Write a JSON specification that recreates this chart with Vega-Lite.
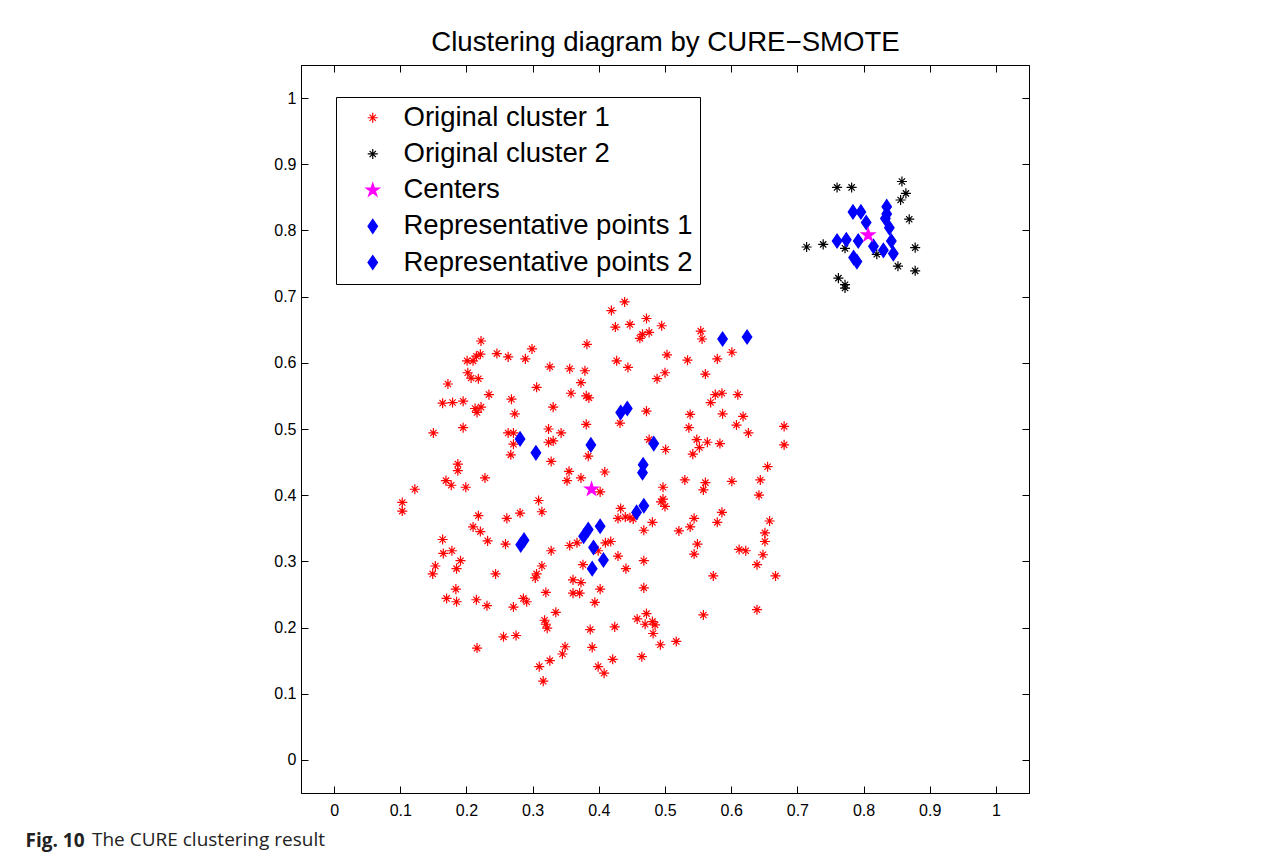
{
  "$schema": "https://vega.github.io/schema/vega-lite/v6.json",
  "autosize": {"type": "none"},
  "padding": {"left": 301, "top": 65, "right": 252, "bottom": 67},
  "width": 728,
  "height": 728,
  "background": "#ffffff",
  "title": {"text": "The CURE clustering result", "orient": "bottom", "anchor": "start", "frame": "group", "font": "Open Sans", "fontSize": 19, "fontWeight": "normal", "color": "#222222", "baseline": "alphabetic", "offset": 0, "dx": -209, "dy": -4},
  "data": {"values": [
    {"x":0.222,"y":0.633,"s":"Original cluster 1"},{"x":0.246,"y":0.614,"s":"Original cluster 1"},{"x":0.215,"y":0.610,"s":"Original cluster 1"},{"x":0.221,"y":0.613,"s":"Original cluster 1"},{"x":0.201,"y":0.603,"s":"Original cluster 1"},{"x":0.210,"y":0.603,"s":"Original cluster 1"},{"x":0.263,"y":0.609,"s":"Original cluster 1"},{"x":0.299,"y":0.621,"s":"Original cluster 1"},{"x":0.289,"y":0.606,"s":"Original cluster 1"},{"x":0.382,"y":0.628,"s":"Original cluster 1"},
    {"x":0.326,"y":0.594,"s":"Original cluster 1"},{"x":0.356,"y":0.591,"s":"Original cluster 1"},{"x":0.379,"y":0.588,"s":"Original cluster 1"},{"x":0.202,"y":0.585,"s":"Original cluster 1"},{"x":0.207,"y":0.577,"s":"Original cluster 1"},{"x":0.218,"y":0.576,"s":"Original cluster 1"},{"x":0.172,"y":0.568,"s":"Original cluster 1"},{"x":0.373,"y":0.570,"s":"Original cluster 1"},{"x":0.306,"y":0.563,"s":"Original cluster 1"},{"x":0.358,"y":0.554,"s":"Original cluster 1"},
    {"x":0.234,"y":0.552,"s":"Original cluster 1"},{"x":0.381,"y":0.550,"s":"Original cluster 1"},{"x":0.385,"y":0.547,"s":"Original cluster 1"},{"x":0.164,"y":0.539,"s":"Original cluster 1"},{"x":0.179,"y":0.540,"s":"Original cluster 1"},{"x":0.195,"y":0.542,"s":"Original cluster 1"},{"x":0.268,"y":0.545,"s":"Original cluster 1"},{"x":0.213,"y":0.531,"s":"Original cluster 1"},{"x":0.222,"y":0.533,"s":"Original cluster 1"},{"x":0.216,"y":0.525,"s":"Original cluster 1"},
    {"x":0.331,"y":0.533,"s":"Original cluster 1"},{"x":0.273,"y":0.523,"s":"Original cluster 1"},{"x":0.381,"y":0.507,"s":"Original cluster 1"},{"x":0.150,"y":0.494,"s":"Original cluster 1"},{"x":0.195,"y":0.502,"s":"Original cluster 1"},{"x":0.324,"y":0.500,"s":"Original cluster 1"},{"x":0.263,"y":0.494,"s":"Original cluster 1"},{"x":0.271,"y":0.494,"s":"Original cluster 1"},{"x":0.343,"y":0.494,"s":"Original cluster 1"},{"x":0.324,"y":0.480,"s":"Original cluster 1"},
    {"x":0.331,"y":0.482,"s":"Original cluster 1"},{"x":0.271,"y":0.477,"s":"Original cluster 1"},{"x":0.267,"y":0.461,"s":"Original cluster 1"},{"x":0.384,"y":0.459,"s":"Original cluster 1"},{"x":0.328,"y":0.451,"s":"Original cluster 1"},{"x":0.187,"y":0.447,"s":"Original cluster 1"},{"x":0.187,"y":0.437,"s":"Original cluster 1"},{"x":0.355,"y":0.436,"s":"Original cluster 1"},{"x":0.409,"y":0.435,"s":"Original cluster 1"},{"x":0.169,"y":0.422,"s":"Original cluster 1"},
    {"x":0.177,"y":0.415,"s":"Original cluster 1"},{"x":0.199,"y":0.412,"s":"Original cluster 1"},{"x":0.228,"y":0.426,"s":"Original cluster 1"},{"x":0.352,"y":0.422,"s":"Original cluster 1"},{"x":0.373,"y":0.426,"s":"Original cluster 1"},{"x":0.122,"y":0.409,"s":"Original cluster 1"},
    {"x":0.439,"y":0.692,"s":"Original cluster 1"},{"x":0.419,"y":0.679,"s":"Original cluster 1"},{"x":0.425,"y":0.654,"s":"Original cluster 1"},{"x":0.447,"y":0.658,"s":"Original cluster 1"},{"x":0.472,"y":0.667,"s":"Original cluster 1"},{"x":0.495,"y":0.656,"s":"Original cluster 1"},{"x":0.462,"y":0.637,"s":"Original cluster 1"},{"x":0.466,"y":0.643,"s":"Original cluster 1"},{"x":0.476,"y":0.646,"s":"Original cluster 1"},{"x":0.554,"y":0.648,"s":"Original cluster 1"},
    {"x":0.556,"y":0.636,"s":"Original cluster 1"},{"x":0.601,"y":0.616,"s":"Original cluster 1"},{"x":0.579,"y":0.606,"s":"Original cluster 1"},{"x":0.503,"y":0.612,"s":"Original cluster 1"},{"x":0.534,"y":0.604,"s":"Original cluster 1"},{"x":0.427,"y":0.603,"s":"Original cluster 1"},{"x":0.444,"y":0.593,"s":"Original cluster 1"},{"x":0.500,"y":0.585,"s":"Original cluster 1"},{"x":0.488,"y":0.576,"s":"Original cluster 1"},{"x":0.561,"y":0.583,"s":"Original cluster 1"},
    {"x":0.576,"y":0.552,"s":"Original cluster 1"},{"x":0.586,"y":0.554,"s":"Original cluster 1"},{"x":0.569,"y":0.540,"s":"Original cluster 1"},{"x":0.610,"y":0.552,"s":"Original cluster 1"},{"x":0.432,"y":0.509,"s":"Original cluster 1"},{"x":0.472,"y":0.527,"s":"Original cluster 1"},{"x":0.538,"y":0.522,"s":"Original cluster 1"},{"x":0.587,"y":0.523,"s":"Original cluster 1"},{"x":0.618,"y":0.519,"s":"Original cluster 1"},{"x":0.536,"y":0.502,"s":"Original cluster 1"},
    {"x":0.608,"y":0.506,"s":"Original cluster 1"},{"x":0.626,"y":0.494,"s":"Original cluster 1"},{"x":0.680,"y":0.504,"s":"Original cluster 1"},{"x":0.680,"y":0.476,"s":"Original cluster 1"},{"x":0.548,"y":0.484,"s":"Original cluster 1"},{"x":0.564,"y":0.480,"s":"Original cluster 1"},{"x":0.552,"y":0.472,"s":"Original cluster 1"},{"x":0.583,"y":0.478,"s":"Original cluster 1"},{"x":0.542,"y":0.462,"s":"Original cluster 1"},{"x":0.476,"y":0.484,"s":"Original cluster 1"},
    {"x":0.501,"y":0.469,"s":"Original cluster 1"},{"x":0.655,"y":0.443,"s":"Original cluster 1"},{"x":0.530,"y":0.423,"s":"Original cluster 1"},{"x":0.561,"y":0.419,"s":"Original cluster 1"},{"x":0.601,"y":0.421,"s":"Original cluster 1"},{"x":0.644,"y":0.423,"s":"Original cluster 1"},{"x":0.497,"y":0.412,"s":"Original cluster 1"},
    {"x":0.103,"y":0.389,"s":"Original cluster 1"},{"x":0.103,"y":0.376,"s":"Original cluster 1"},{"x":0.218,"y":0.369,"s":"Original cluster 1"},{"x":0.261,"y":0.365,"s":"Original cluster 1"},{"x":0.281,"y":0.373,"s":"Original cluster 1"},{"x":0.309,"y":0.392,"s":"Original cluster 1"},{"x":0.314,"y":0.375,"s":"Original cluster 1"},{"x":0.210,"y":0.352,"s":"Original cluster 1"},{"x":0.221,"y":0.345,"s":"Original cluster 1"},{"x":0.232,"y":0.331,"s":"Original cluster 1"},
    {"x":0.164,"y":0.333,"s":"Original cluster 1"},{"x":0.165,"y":0.312,"s":"Original cluster 1"},{"x":0.178,"y":0.316,"s":"Original cluster 1"},{"x":0.191,"y":0.301,"s":"Original cluster 1"},{"x":0.153,"y":0.293,"s":"Original cluster 1"},{"x":0.149,"y":0.281,"s":"Original cluster 1"},{"x":0.185,"y":0.289,"s":"Original cluster 1"},{"x":0.259,"y":0.326,"s":"Original cluster 1"},{"x":0.328,"y":0.316,"s":"Original cluster 1"},{"x":0.356,"y":0.324,"s":"Original cluster 1"},
    {"x":0.367,"y":0.328,"s":"Original cluster 1"},{"x":0.399,"y":0.316,"s":"Original cluster 1"},{"x":0.410,"y":0.328,"s":"Original cluster 1"},{"x":0.314,"y":0.293,"s":"Original cluster 1"},{"x":0.244,"y":0.281,"s":"Original cluster 1"},{"x":0.306,"y":0.281,"s":"Original cluster 1"},{"x":0.304,"y":0.275,"s":"Original cluster 1"},{"x":0.376,"y":0.295,"s":"Original cluster 1"},{"x":0.361,"y":0.272,"s":"Original cluster 1"},{"x":0.373,"y":0.268,"s":"Original cluster 1"},
    {"x":0.361,"y":0.252,"s":"Original cluster 1"},{"x":0.371,"y":0.252,"s":"Original cluster 1"},{"x":0.402,"y":0.258,"s":"Original cluster 1"},{"x":0.394,"y":0.238,"s":"Original cluster 1"},{"x":0.320,"y":0.253,"s":"Original cluster 1"},{"x":0.184,"y":0.258,"s":"Original cluster 1"},{"x":0.170,"y":0.244,"s":"Original cluster 1"},{"x":0.185,"y":0.239,"s":"Original cluster 1"},{"x":0.215,"y":0.242,"s":"Original cluster 1"},{"x":0.231,"y":0.233,"s":"Original cluster 1"},
    {"x":0.286,"y":0.244,"s":"Original cluster 1"},{"x":0.291,"y":0.239,"s":"Original cluster 1"},{"x":0.271,"y":0.231,"s":"Original cluster 1"},{"x":0.335,"y":0.223,"s":"Original cluster 1"},{"x":0.318,"y":0.211,"s":"Original cluster 1"},{"x":0.320,"y":0.205,"s":"Original cluster 1"},{"x":0.322,"y":0.199,"s":"Original cluster 1"},{"x":0.387,"y":0.197,"s":"Original cluster 1"},{"x":0.256,"y":0.186,"s":"Original cluster 1"},{"x":0.275,"y":0.188,"s":"Original cluster 1"},
    {"x":0.216,"y":0.169,"s":"Original cluster 1"},{"x":0.349,"y":0.171,"s":"Original cluster 1"},{"x":0.345,"y":0.160,"s":"Original cluster 1"},{"x":0.390,"y":0.170,"s":"Original cluster 1"},{"x":0.326,"y":0.150,"s":"Original cluster 1"},{"x":0.310,"y":0.141,"s":"Original cluster 1"},{"x":0.316,"y":0.119,"s":"Original cluster 1"},{"x":0.399,"y":0.141,"s":"Original cluster 1"},{"x":0.408,"y":0.131,"s":"Original cluster 1"},{"x":0.402,"y":0.405,"s":"Original cluster 1"},
    {"x":0.497,"y":0.394,"s":"Original cluster 1"},{"x":0.494,"y":0.390,"s":"Original cluster 1"},{"x":0.500,"y":0.383,"s":"Original cluster 1"},{"x":0.558,"y":0.408,"s":"Original cluster 1"},{"x":0.642,"y":0.400,"s":"Original cluster 1"},{"x":0.433,"y":0.380,"s":"Original cluster 1"},{"x":0.429,"y":0.365,"s":"Original cluster 1"},{"x":0.440,"y":0.367,"s":"Original cluster 1"},{"x":0.447,"y":0.366,"s":"Original cluster 1"},{"x":0.452,"y":0.364,"s":"Original cluster 1"},
    {"x":0.481,"y":0.359,"s":"Original cluster 1"},{"x":0.468,"y":0.347,"s":"Original cluster 1"},{"x":0.521,"y":0.346,"s":"Original cluster 1"},{"x":0.544,"y":0.365,"s":"Original cluster 1"},{"x":0.538,"y":0.352,"s":"Original cluster 1"},{"x":0.586,"y":0.374,"s":"Original cluster 1"},{"x":0.579,"y":0.359,"s":"Original cluster 1"},{"x":0.658,"y":0.361,"s":"Original cluster 1"},{"x":0.651,"y":0.343,"s":"Original cluster 1"},{"x":0.651,"y":0.330,"s":"Original cluster 1"},
    {"x":0.549,"y":0.326,"s":"Original cluster 1"},{"x":0.544,"y":0.311,"s":"Original cluster 1"},{"x":0.612,"y":0.318,"s":"Original cluster 1"},{"x":0.622,"y":0.316,"s":"Original cluster 1"},{"x":0.648,"y":0.310,"s":"Original cluster 1"},{"x":0.639,"y":0.295,"s":"Original cluster 1"},{"x":0.667,"y":0.278,"s":"Original cluster 1"},{"x":0.573,"y":0.278,"s":"Original cluster 1"},{"x":0.418,"y":0.330,"s":"Original cluster 1"},{"x":0.429,"y":0.308,"s":"Original cluster 1"},
    {"x":0.441,"y":0.289,"s":"Original cluster 1"},{"x":0.468,"y":0.301,"s":"Original cluster 1"},{"x":0.468,"y":0.260,"s":"Original cluster 1"},{"x":0.458,"y":0.213,"s":"Original cluster 1"},{"x":0.472,"y":0.221,"s":"Original cluster 1"},{"x":0.470,"y":0.205,"s":"Original cluster 1"},{"x":0.481,"y":0.209,"s":"Original cluster 1"},{"x":0.485,"y":0.204,"s":"Original cluster 1"},{"x":0.482,"y":0.191,"s":"Original cluster 1"},{"x":0.558,"y":0.219,"s":"Original cluster 1"},
    {"x":0.639,"y":0.227,"s":"Original cluster 1"},{"x":0.424,"y":0.201,"s":"Original cluster 1"},{"x":0.493,"y":0.174,"s":"Original cluster 1"},{"x":0.517,"y":0.179,"s":"Original cluster 1"},{"x":0.421,"y":0.152,"s":"Original cluster 1"},{"x":0.465,"y":0.156,"s":"Original cluster 1"},
    {"x":0.760,"y":0.865,"s":"Original cluster 2"},{"x":0.782,"y":0.865,"s":"Original cluster 2"},{"x":0.858,"y":0.874,"s":"Original cluster 2"},{"x":0.864,"y":0.856,"s":"Original cluster 2"},{"x":0.856,"y":0.846,"s":"Original cluster 2"},{"x":0.869,"y":0.817,"s":"Original cluster 2"},{"x":0.714,"y":0.775,"s":"Original cluster 2"},{"x":0.739,"y":0.779,"s":"Original cluster 2"},{"x":0.772,"y":0.773,"s":"Original cluster 2"},{"x":0.820,"y":0.764,"s":"Original cluster 2"},
    {"x":0.878,"y":0.774,"s":"Original cluster 2"},{"x":0.852,"y":0.746,"s":"Original cluster 2"},{"x":0.878,"y":0.739,"s":"Original cluster 2"},{"x":0.762,"y":0.728,"s":"Original cluster 2"},{"x":0.772,"y":0.718,"s":"Original cluster 2"},{"x":0.772,"y":0.713,"s":"Original cluster 2"},
    {"x":0.281,"y":0.485,"s":"Representative points 1"},{"x":0.305,"y":0.464,"s":"Representative points 1"},{"x":0.388,"y":0.476,"s":"Representative points 1"},{"x":0.587,"y":0.636,"s":"Representative points 1"},{"x":0.624,"y":0.639,"s":"Representative points 1"},{"x":0.433,"y":0.525,"s":"Representative points 1"},{"x":0.443,"y":0.531,"s":"Representative points 1"},{"x":0.483,"y":0.478,"s":"Representative points 1"},{"x":0.467,"y":0.446,"s":"Representative points 1"},{"x":0.466,"y":0.434,"s":"Representative points 1"},
    {"x":0.282,"y":0.325,"s":"Representative points 1"},{"x":0.287,"y":0.332,"s":"Representative points 1"},{"x":0.384,"y":0.348,"s":"Representative points 1"},{"x":0.377,"y":0.338,"s":"Representative points 1"},{"x":0.402,"y":0.353,"s":"Representative points 1"},{"x":0.392,"y":0.321,"s":"Representative points 1"},{"x":0.407,"y":0.302,"s":"Representative points 1"},{"x":0.390,"y":0.289,"s":"Representative points 1"},{"x":0.457,"y":0.374,"s":"Representative points 1"},{"x":0.468,"y":0.384,"s":"Representative points 1"},
    {"x":0.784,"y":0.828,"s":"Representative points 2"},{"x":0.796,"y":0.828,"s":"Representative points 2"},{"x":0.835,"y":0.836,"s":"Representative points 2"},{"x":0.835,"y":0.825,"s":"Representative points 2"},{"x":0.833,"y":0.818,"s":"Representative points 2"},{"x":0.839,"y":0.804,"s":"Representative points 2"},{"x":0.804,"y":0.812,"s":"Representative points 2"},{"x":0.760,"y":0.784,"s":"Representative points 2"},{"x":0.774,"y":0.786,"s":"Representative points 2"},{"x":0.792,"y":0.784,"s":"Representative points 2"},
    {"x":0.815,"y":0.776,"s":"Representative points 2"},{"x":0.842,"y":0.784,"s":"Representative points 2"},{"x":0.830,"y":0.770,"s":"Representative points 2"},{"x":0.845,"y":0.765,"s":"Representative points 2"},{"x":0.785,"y":0.759,"s":"Representative points 2"},{"x":0.790,"y":0.753,"s":"Representative points 2"},
    {"x":0.389,"y":0.409,"s":"Centers"},{"x":0.807,"y":0.793,"s":"Centers"}
  ]},
  "resolve": {"axis": {"x": "independent", "y": "independent"}},
  "layer": [
    {
      "mark": {"type": "point", "filled": true, "size": 196, "strokeWidth": 1.2, "opacity": 1},
      "encoding": {
        "x": {"field": "x", "type": "quantitative", "scale": {"domain": [-0.05, 1.05], "nice": false, "zero": false},
          "axis": {"orient": "bottom", "values": [0, 0.1, 0.2, 0.3, 0.4, 0.5, 0.6, 0.7, 0.8, 0.9, 1], "format": "~g", "labelPadding": 16,
            "title": "Fig. 10", "titleFont": "Open Sans", "titleFontSize": 19, "titleFontWeight": "bold", "titleColor": "#222222", "titleX": -276, "titleY": 53, "titleAlign": "left", "titleBaseline": "alphabetic"}},
        "y": {"field": "y", "type": "quantitative", "scale": {"domain": [-0.05, 1.05], "nice": false, "zero": false},
          "axis": {"orient": "left", "values": [0, 0.1, 0.2, 0.3, 0.4, 0.5, 0.6, 0.7, 0.8, 0.9, 1], "format": "~g", "labelPadding": 12, "title": null}},
        "color": {"field": "s", "type": "nominal",
          "scale": {"domain": ["Original cluster 1", "Original cluster 2", "Centers", "Representative points 1", "Representative points 2"], "range": ["#ff0000", "#000000", "#ff00ff", "#0000ff", "#0000ff"]},
          "legend": {"title": null}},
        "stroke": {"field": "s", "type": "nominal",
          "scale": {"domain": ["Original cluster 1", "Original cluster 2", "Centers", "Representative points 1", "Representative points 2"], "range": ["#ff0000", "#000000", "#ff00ff", "#0000ff", "#0000ff"]},
          "legend": {"title": null}},
        "shape": {"field": "s", "type": "nominal",
          "scale": {"domain": ["Original cluster 1", "Original cluster 2", "Centers", "Representative points 1", "Representative points 2"],
            "range": [
              "M-0.72,0L0.72,0M0,-0.72L0,0.72M-0.45,-0.45L0.45,0.45M-0.45,0.45L0.45,-0.45",
              "M-0.72,0L0.72,0M0,-0.72L0,0.72M-0.45,-0.45L0.45,0.45M-0.45,0.45L0.45,-0.45",
              "M0,-1L0.2245,-0.309L0.951,-0.309L0.363,0.118L0.588,0.809L0,0.382L-0.588,0.809L-0.363,0.118L-0.951,-0.309L-0.2245,-0.309Z",
              "M0,-1L0.68,0L0,1L-0.68,0Z",
              "M0,-1L0.68,0L0,1L-0.68,0Z"]},
          "legend": {"title": null}}
      }
    },
    {
      "mark": {"type": "point", "opacity": 0},
      "encoding": {
        "x": {"field": "x", "type": "quantitative", "scale": {"domain": [-0.05, 1.05], "nice": false, "zero": false},
          "axis": {"orient": "top", "values": [0, 0.1, 0.2, 0.3, 0.4, 0.5, 0.6, 0.7, 0.8, 0.9, 1], "labels": false,
            "title": "Clustering diagram by CURE−SMOTE", "titleFont": "Liberation Sans", "titleFontSize": 27.6, "titleFontWeight": "normal", "titleColor": "#000000", "titleX": 364, "titleY": -15, "titleAlign": "center", "titleBaseline": "alphabetic"}},
        "y": {"field": "y", "type": "quantitative", "scale": {"domain": [-0.05, 1.05], "nice": false, "zero": false},
          "axis": {"orient": "right", "values": [0, 0.1, 0.2, 0.3, 0.4, 0.5, 0.6, 0.7, 0.8, 0.9, 1], "labels": false, "title": null}}
      }
    }
  ],
  "config": {
    "font": "Liberation Sans",
    "view": {"stroke": "#000000", "strokeWidth": 1},
    "axis": {"grid": false, "domainColor": "#000000", "domainWidth": 1, "tickColor": "#000000", "tickWidth": 1, "tickSize": -7,
      "labelColor": "#000000", "labelFont": "Liberation Sans", "labelFontSize": 16},
    "legend": {"orient": "none", "legendX": 35, "legendY": 32, "labelFont": "Liberation Sans", "labelFontSize": 27.5, "labelColor": "#000000",
      "symbolSize": 196, "symbolStrokeWidth": 1.2, "strokeColor": "#000000", "fillColor": "#ffffff", "padding": 7, "rowPadding": 7.2,
      "symbolOffset": 16, "labelOffset": 17, "labelLimit": 500}
  }
}
